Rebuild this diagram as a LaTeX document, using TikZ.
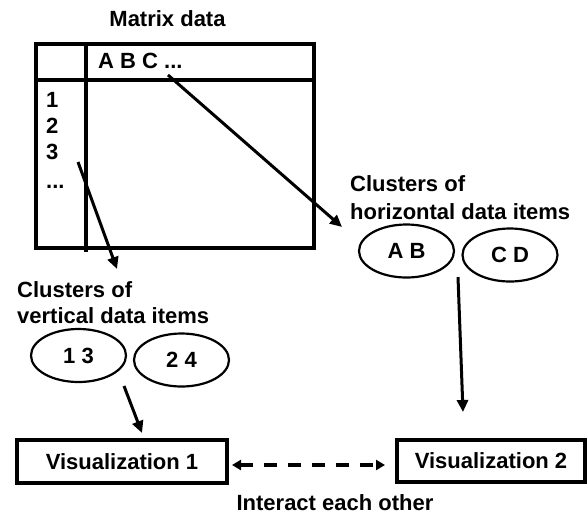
\documentclass[tikz,border=0pt]{standalone}
\usepackage{fontspec}
\setmainfont{Liberation Sans}
\usetikzlibrary{arrows.meta,shapes.geometric}
\begin{document}
\begin{tikzpicture}[x=1pt,y=-1pt,
  txt/.style={font=\bfseries\fontsize{22}{26}\selectfont, inner sep=0pt},
  frame/.style={draw, line width=4pt},
  cluster/.style={ellipse, draw, line width=2.2pt, inner sep=0pt,
    minimum width=95pt, minimum height=53pt,
    font=\bfseries\fontsize{22}{26}\selectfont},
  visbox/.style={draw, line width=4pt, inner sep=0pt,
    font=\bfseries\fontsize{22}{26}\selectfont},
  link/.style={line width=3pt, -{Triangle[length=12pt,width=11pt]}},
  mutual/.style={line width=4.5pt, dash pattern=on 13pt off 11pt,
    {Triangle[length=9pt,width=10pt]}-{Triangle[length=9pt,width=10pt]}}
]
\useasboundingbox (0,0) rectangle (588,515);

% matrix table
\node[frame, minimum width=278pt, minimum height=204pt, inner sep=0pt]
  (tbl) at (175,146) {};
\draw[frame] (86,44) -- (86,252);
\draw[frame] (36,80) -- (314,80);
\node[txt, anchor=base] (title) at (167.5,26) {Matrix data};
\node[txt, anchor=base west] (cols) at (98,68) {A B C ...};
\node[txt, anchor=base west] (r1) at (46,107) {1};
\node[txt, anchor=base west] (r2) at (46,133) {2};
\node[txt, anchor=base west] (r3) at (46,159) {3};
\node[txt, anchor=base west] (r4) at (46,188) {...};

% horizontal clusters
\node[txt, anchor=base west] (hcA) at (350,191) {Clusters of};
\node[txt, anchor=base west] (hcB) at (350,219) {horizontal data items};
\node[cluster] (ab) at (406.5,251) {A B};
\node[cluster] (cd) at (510,255) {C D};

% vertical clusters
\node[txt, anchor=base west] (vcA) at (17,297) {Clusters of};
\node[txt, anchor=base west] (vcB) at (17,323) {vertical data items};
\node[cluster] (c13) at (78.5,355.5) {1 3};
\node[cluster] (c24) at (181.5,360) {2 4};

% visualizations
\node[visbox, minimum width=210pt, minimum height=43pt] (vis1) at (122,461.5) {Visualization 1};
\node[visbox, minimum width=188pt, minimum height=42pt] (vis2) at (491,461) {Visualization 2};
\node[txt, anchor=base] (inter) at (335,510) {Interact each other};

% connector ends
\coordinate (colsEnd) at (168,75);
\coordinate (hcTip) at (342,227);
\coordinate (rowsEnd) at (78,162);
\coordinate (vcTip) at (117,269);
\coordinate (c13Out) at (124,386);
\coordinate (vis1In) at (142,433);
\coordinate (abOut) at (458,277);
\coordinate (vis2In) at (463,412);
\coordinate (vis1Side) at (232,465);
\coordinate (vis2Side) at (385,465);

\draw[link] (colsEnd) -- (hcTip);
\draw[link] (rowsEnd) -- (vcTip);
\draw[link] (c13Out) -- (vis1In);
\draw[link] (abOut) -- (vis2In);
\draw[mutual] (vis1Side) -- (vis2Side);
\end{tikzpicture}
\end{document}
